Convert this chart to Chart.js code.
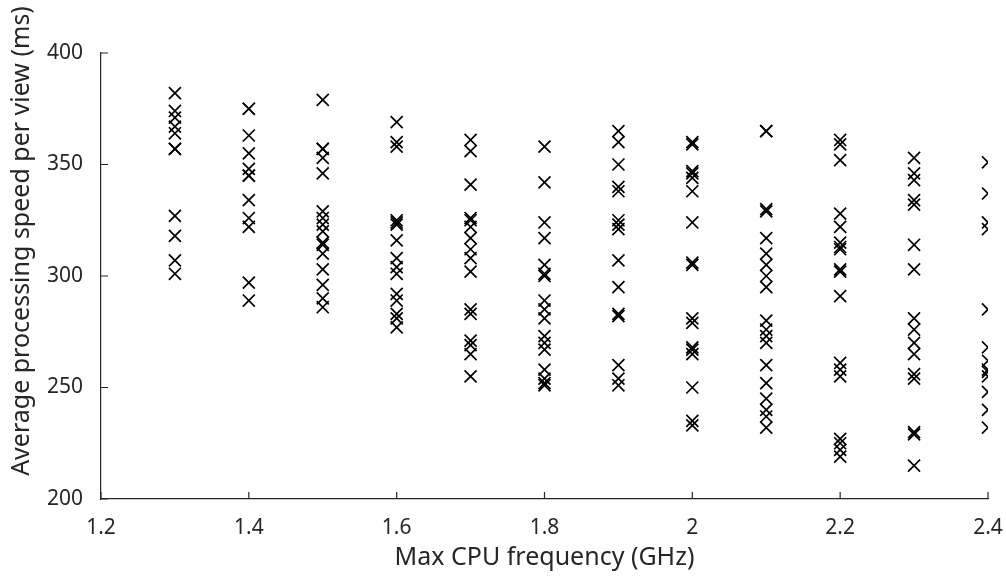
<!DOCTYPE html>
<html>
<head>
<meta charset="utf-8">
<script src="https://cdn.jsdelivr.net/npm/chart.js@4"></script>
<style>
  html, body { margin: 0; padding: 0; background: #fff; }
  #wrap { width: 1006px; height: 583px; }
</style>
</head>
<body>
<div id="wrap"><canvas id="grafico" width="1006" height="583"></canvas></div>
<script>
// Frequências (GHz) e tempos medidos (ms) em cada uma
const frequencias = [1.3, 1.4, 1.5, 1.6, 1.7, 1.8, 1.9, 2.0, 2.1, 2.2, 2.3, 2.4];
const tempos13 = [382, 374, 371, 367, 364, 357, 357, 327, 318, 307, 301];
const tempos14 = [375, 375, 363, 355, 348, 345, 345, 334, 326, 322, 297, 289];
const tempos15 = [379, 357, 357, 353, 346, 329, 326, 323, 320, 315, 314, 310, 303, 296, 290, 286];
const tempos16 = [369, 360, 358, 325, 324, 323, 316, 308, 304, 301, 292, 289, 283, 281, 277];
const tempos17 = [361, 356, 341, 326, 325, 322, 317, 312, 308, 302, 285, 283, 271, 269, 265, 255];
const tempos18 = [358, 342, 324, 317, 305, 301, 300, 289, 285, 281, 273, 270, 267, 258, 254, 252, 251];
const tempos19 = [365, 360, 350, 340, 338, 325, 323, 321, 307, 295, 283, 282, 260, 254, 251];
const tempos20 = [360, 359, 347, 346, 344, 338, 324, 306, 305, 281, 279, 268, 267, 265, 250, 235, 233];
const tempos21 = [365, 365, 330, 329, 317, 310, 305, 300, 295, 280, 276, 273, 270, 260, 252, 245, 240, 237, 232];
const tempos22 = [361, 359, 352, 328, 322, 315, 313, 312, 303, 302, 291, 261, 258, 255, 227, 225, 222, 219];
const tempos23 = [353, 346, 343, 334, 332, 314, 303, 281, 276, 270, 265, 256, 254, 230, 229, 215];
const tempos24 = [351, 337, 324, 321, 285, 268, 262, 258, 257, 255, 248, 240, 232];
const ticksX = [1.2, 1.4, 1.6, 1.8, 2.0, 2.2, 2.4];
const ticksY = [200, 250, 300, 350, 400];

const colunas = [tempos13, tempos14, tempos15, tempos16, tempos17, tempos18,
                 tempos19, tempos20, tempos21, tempos22, tempos23, tempos24];

const pontos = [];
colunas.forEach((lista, i) => {
    lista.forEach(v => pontos.push({ x: frequencias[i], y: v }));
});

const corTexto = '#262626';
const fonte = 'Noto Sans, Liberation Sans, Arial, sans-serif';
const tituloY = 'Average processing speed per view (ms)';

// marcas dos ticks para dentro + título do eixo Y (um pouco acima do centro, como no original)
const extrasEixos = {
    id: 'extrasEixos',
    afterDraw(chart) {
        const { ctx, chartArea, scales } = chart;
        ctx.save();
        ctx.strokeStyle = corTexto;
        ctx.lineWidth = 1.2;
        ctx.beginPath();
        ticksX.forEach(v => {
            const px = scales.x.getPixelForValue(v);
            ctx.moveTo(px, chartArea.bottom);
            ctx.lineTo(px, chartArea.bottom - 7);
        });
        ticksY.forEach(v => {
            const py = scales.y.getPixelForValue(v);
            ctx.moveTo(chartArea.left, py);
            ctx.lineTo(chartArea.left + 7, py);
        });
        ctx.stroke();

        ctx.translate(22, 241);
        ctx.rotate(-Math.PI / 2);
        ctx.fillStyle = corTexto;
        ctx.font = '25px ' + fonte;
        ctx.textAlign = 'center';
        ctx.textBaseline = 'middle';
        ctx.fillText(tituloY, 0, 0);
        ctx.restore();
    }
};

new Chart(document.getElementById('grafico'), {
    type: 'scatter',
    data: {
        datasets: [{
            data: pontos,
            pointStyle: 'crossRot',
            pointRadius: 8.5,
            pointBorderWidth: 1.7,
            borderColor: '#000',
            backgroundColor: '#000'
        }]
    },
    options: {
        responsive: false,
        animation: false,
        events: [],
        layout: { padding: { top: 53, right: 18, left: 0, bottom: 0 } },
        plugins: { legend: { display: false }, tooltip: { enabled: false } },
        scales: {
            x: {
                type: 'linear',
                min: 1.2,
                max: 2.4,
                afterBuildTicks: s => { s.ticks = ticksX.map(v => ({ value: v })); },
                afterFit: s => { s.height = 84; s.paddingLeft = 0; s.paddingRight = 0; },
                border: { color: corTexto, width: 1.2 },
                grid: { drawOnChartArea: false, drawTicks: false },
                ticks: {
                    color: corTexto,
                    font: { family: fonte, size: 21 },
                    padding: 16,
                    maxRotation: 0,
                    callback: v => String(Math.round(v * 10) / 10)
                },
                title: {
                    display: true,
                    text: 'Max CPU frequency (GHz)',
                    color: corTexto,
                    font: { family: fonte, size: 25 },
                    padding: { top: 0, bottom: 10 }
                }
            },
            y: {
                type: 'linear',
                min: 200,
                max: 400,
                afterBuildTicks: s => { s.ticks = ticksY.map(v => ({ value: v })); },
                afterFit: s => { s.width = 101; s.paddingTop = 0; s.paddingBottom = 0; },
                border: { color: corTexto, width: 1.2 },
                grid: { drawOnChartArea: false, drawTicks: false },
                ticks: {
                    color: corTexto,
                    font: { family: fonte, size: 21 },
                    padding: 18
                },
                title: { display: false }
            }
        }
    },
    plugins: [extrasEixos]
});
</script>
</body>
</html>
